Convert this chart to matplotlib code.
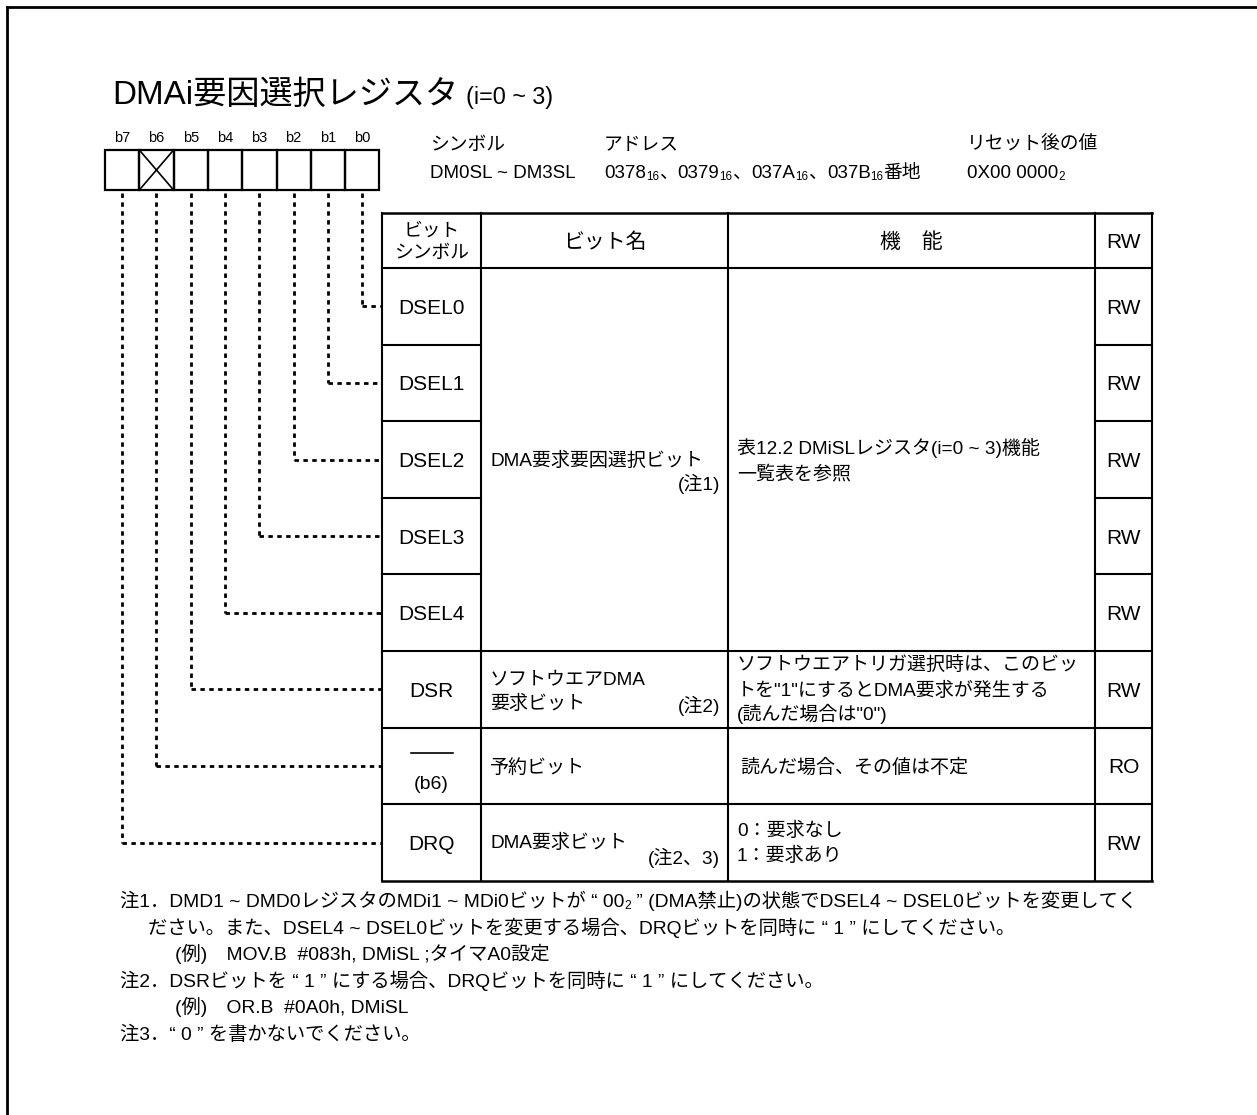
import matplotlib
matplotlib.use('Agg')
import matplotlib.pyplot as plt

W, H = 1257, 1115
plt.rcParams['font.family'] = ['Liberation Sans', 'Noto Sans CJK JP']

# ---------------- data ----------------
title_main = "DMAi要因選択レジスタ"
title_sub = "(i=0 ~ 3)"
bit_labels = ["b7", "b6", "b5", "b4", "b3", "b2", "b1", "b0"]
reserved_bit = "b6"
info_titles = ["シンボル", "アドレス", "リセット後の値"]
symbol_text = "DM0SL ~ DM3SL"
address_values = ["0378", "0379", "037A", "037B"]
address_base = "16"
address_suffix = "番地"
reset_digits = "0X00 0000"
reset_base = "2"
header_symbol = ["ビット", "シンボル"]
header_name = "ビット名"
header_func = "機　能"
header_rw = "RW"
row_symbols = ["DSEL0", "DSEL1", "DSEL2", "DSEL3", "DSEL4", "DSR", "", "DRQ"]
row_bits = ["b0", "b1", "b2", "b3", "b4", "b5", "b6", "b7"]
row_access = ["RW", "RW", "RW", "RW", "RW", "RW", "RO", "RW"]
dsel_name = ["DMA要求要因選択ビット", "(注1)"]
dsel_func = ["表12.2 DMiSLレジスタ(i=0 ~ 3)機能", "一覧表を参照"]
dsr_name = ["ソフトウエアDMA", "要求ビット", "(注2)"]
dsr_func = ["ソフトウエアトリガ選択時は、このビッ",
            'トを"1"にするとDMA要求が発生する',
            '(読んだ場合は"0")']
rsv_symbol = "(b6)"
rsv_name = "予約ビット"
rsv_func = "読んだ場合、その値は不定"
drq_name = ["DMA要求ビット", "(注2、3)"]
drq_func = ["0：要求なし", "1：要求あり"]
note1_line1 = [("注1．DMD1 ~ DMD0レジスタのMDi1 ~ MDi0ビットが “ 00", 0),
               ("2", 1),
               (" ” (DMA禁止)の状態でDSEL4 ~ DSEL0ビットを変更してく", 0)]
note1_line2 = "ださい。また、DSEL4 ~ DSEL0ビットを変更する場合、DRQビットを同時に “ 1 ” にしてください。"
note1_line3 = "(例)　MOV.B  #083h, DMiSL ;タイマA0設定"
note2_line1 = "注2．DSRビットを “ 1 ” にする場合、DRQビットを同時に “ 1 ” にしてください。"
note2_line2 = "(例)　OR.B  #0A0h, DMiSL"
note3_line1 = "注3．“ 0 ” を書かないでください。"

# ---------------- figure ----------------
fig = plt.figure(figsize=(W / 100, H / 100), dpi=100)
ax = fig.add_axes([0, 0, 1, 1])
ax.set_xlim(0, W)
ax.set_ylim(H, 0)
ax.axis('off')
R = fig.canvas.get_renderer()


def base(y, size):
    return y + 0.36 * size * 100 / 72


def T(x, y, s, size, ha='left'):
    return ax.text(x, base(y, size), s, fontsize=size, ha=ha, va='baseline', color='black')


def tw(s, size):
    t = ax.text(0, 0, s, fontsize=size)
    w = t.get_window_extent(renderer=R).width
    t.remove()
    return w


def runs(x, y, parts, size, ha='left'):
    # parts: (text, is_sub)
    sizes = [size * 0.62 if sub else size for _, sub in parts]
    widths = [tw(p[0], s) for p, s in zip(parts, sizes)]
    total = sum(widths)
    if ha == 'right':
        x -= total
    elif ha == 'center':
        x -= total / 2
    b = base(y, size)
    for (s, sub), sz, w in zip(parts, sizes, widths):
        ax.text(x, b + (2 if sub else 0), s, fontsize=sz, ha='left', va='baseline')
        x += w


def line(xs, ys, lw=1.5, **kw):
    ax.plot(xs, ys, color='black', lw=lw, solid_capstyle='projecting', **kw)


def dotted(xs, ys):
    ax.plot(xs, ys, color='black', lw=2.0, linestyle=(0, (1.6, 1.6)), dash_capstyle='butt')


# outer frame
line([7, W + 5], [7, 7], lw=2)
line([7, 7], [7, H + 5], lw=2)

# title
runs(112, 92, [(title_main, 0)], 23.9)
T(466, 96, title_sub, 16.8)

# bit boxes
bx0, bw, by0, by1 = 105, 34.3, 150, 190
for j, b in enumerate(bit_labels):
    x0 = bx0 + j * bw
    ax.add_patch(plt.Rectangle((x0, by0), bw, by1 - by0, fill=False, lw=1.6, ec='black'))
    T(x0 + bw / 2, 137, b, 10.5, ha='center')
    if b == reserved_bit:
        line([x0, x0 + bw], [by0, by1], lw=1.2)
        line([x0, x0 + bw], [by1, by0], lw=1.2)

# info block
info_x = [430, 604, 967]
for x, s in zip(info_x, info_titles):
    T(x, 143, s, 13.5)
T(430, 171, symbol_text, 13.5)
addr_parts = []
for k, a in enumerate(address_values):
    addr_parts.append((a, 0))
    addr_parts.append((address_base, 1))
    if k < len(address_values) - 1:
        addr_parts.append(("、", 0))
addr_parts.append((address_suffix, 0))
runs(604, 171, addr_parts, 13.5)
runs(967, 171, [(reset_digits, 0), (reset_base, 1)], 13.5)

# table geometry
cx = [382, 481, 728, 1095, 1152]
y_top, y_head, rh = 213, 268, 76.6
nrows = len(row_symbols)
y_bot = y_head + rh * nrows
yb = [y_head + rh * i for i in range(nrows + 1)]
yc = [y_head + rh * (i + 0.5) for i in range(nrows)]

# table lines
for x in cx:
    line([x, x], [y_top, y_bot], lw=1.5)
line([cx[0], cx[-1]], [y_top, y_top], lw=1.8)
line([cx[0], cx[-1]], [y_head, y_head], lw=1.5)
line([cx[0], cx[-1]], [y_bot, y_bot], lw=1.8)
for i in range(1, nrows):
    if i <= 4:
        line([cx[0], cx[1]], [yb[i], yb[i]], lw=1.5)
        line([cx[3], cx[4]], [yb[i], yb[i]], lw=1.5)
    else:
        line([cx[0], cx[-1]], [yb[i], yb[i]], lw=1.5)

# header
T((cx[0] + cx[1]) / 2, 229, header_symbol[0], 13.5, ha='center')
T((cx[0] + cx[1]) / 2, 251, header_symbol[1], 13.5, ha='center')
T((cx[1] + cx[2]) / 2, 240, header_name, 15, ha='center')
T((cx[2] + cx[3]) / 2, 240, header_func, 15, ha='center')
T((cx[3] + cx[4]) / 2, 240, header_rw, 15, ha='center')

# rows: symbols and access
for i in range(nrows):
    if row_symbols[i]:
        T((cx[0] + cx[1]) / 2, yc[i], row_symbols[i], 15, ha='center')
    T((cx[3] + cx[4]) / 2, yc[i], row_access[i], 15, ha='center')

# merged DSEL cells
ym = (yb[0] + yb[5]) / 2
T(490, ym, dsel_name[0], 13.7)
T(720, ym + 24, dsel_name[1], 13.7, ha='right')
T(737, ym - 12, dsel_func[0], 13.7)
T(737, ym + 13, dsel_func[1], 13.7)

# DSR row
T(490, yc[5] - 11, dsr_name[0], 13.7)
T(490, yc[5] + 13, dsr_name[1], 13.7)
T(720, yc[5] + 16, dsr_name[2], 13.7, ha='right')
for k, s in enumerate(dsr_func):
    T(737, yc[5] - 25 + 24.5 * k, s, 13.7)

# reserved row
line([411, 453], [yc[6] - 13, yc[6] - 13], lw=1.2)
T((cx[0] + cx[1]) / 2, yc[6] + 16, rsv_symbol, 14, ha='center')
T(490, yc[6], rsv_name, 13.7)
T(740, yc[6], rsv_func, 13.7)

# DRQ row
T(490, yc[7] - 1, drq_name[0], 13.7)
T(720, yc[7] + 15, drq_name[1], 13.7, ha='right')
T(737, yc[7] - 13, drq_func[0], 13.7)
T(737, yc[7] + 12, drq_func[1], 13.7)

# dotted connectors
for r, b in enumerate(row_bits):
    j = bit_labels.index(b)
    x = bx0 + j * bw + bw / 2
    dotted([x, x], [by1 + 3, yc[r]])
    dotted([x, cx[0]], [yc[r], yc[r]])

# notes
ny = [900, 927, 953, 980, 1006, 1033]
NS = 13.9
runs(120, ny[0], note1_line1, NS)
T(148, ny[1], note1_line2, NS)
T(175, ny[2], note1_line3, NS)
T(120, ny[3], note2_line1, NS)
T(175, ny[4], note2_line2, NS)
T(120, ny[5], note3_line1, NS)

fig.savefig('out.png', dpi=100)
